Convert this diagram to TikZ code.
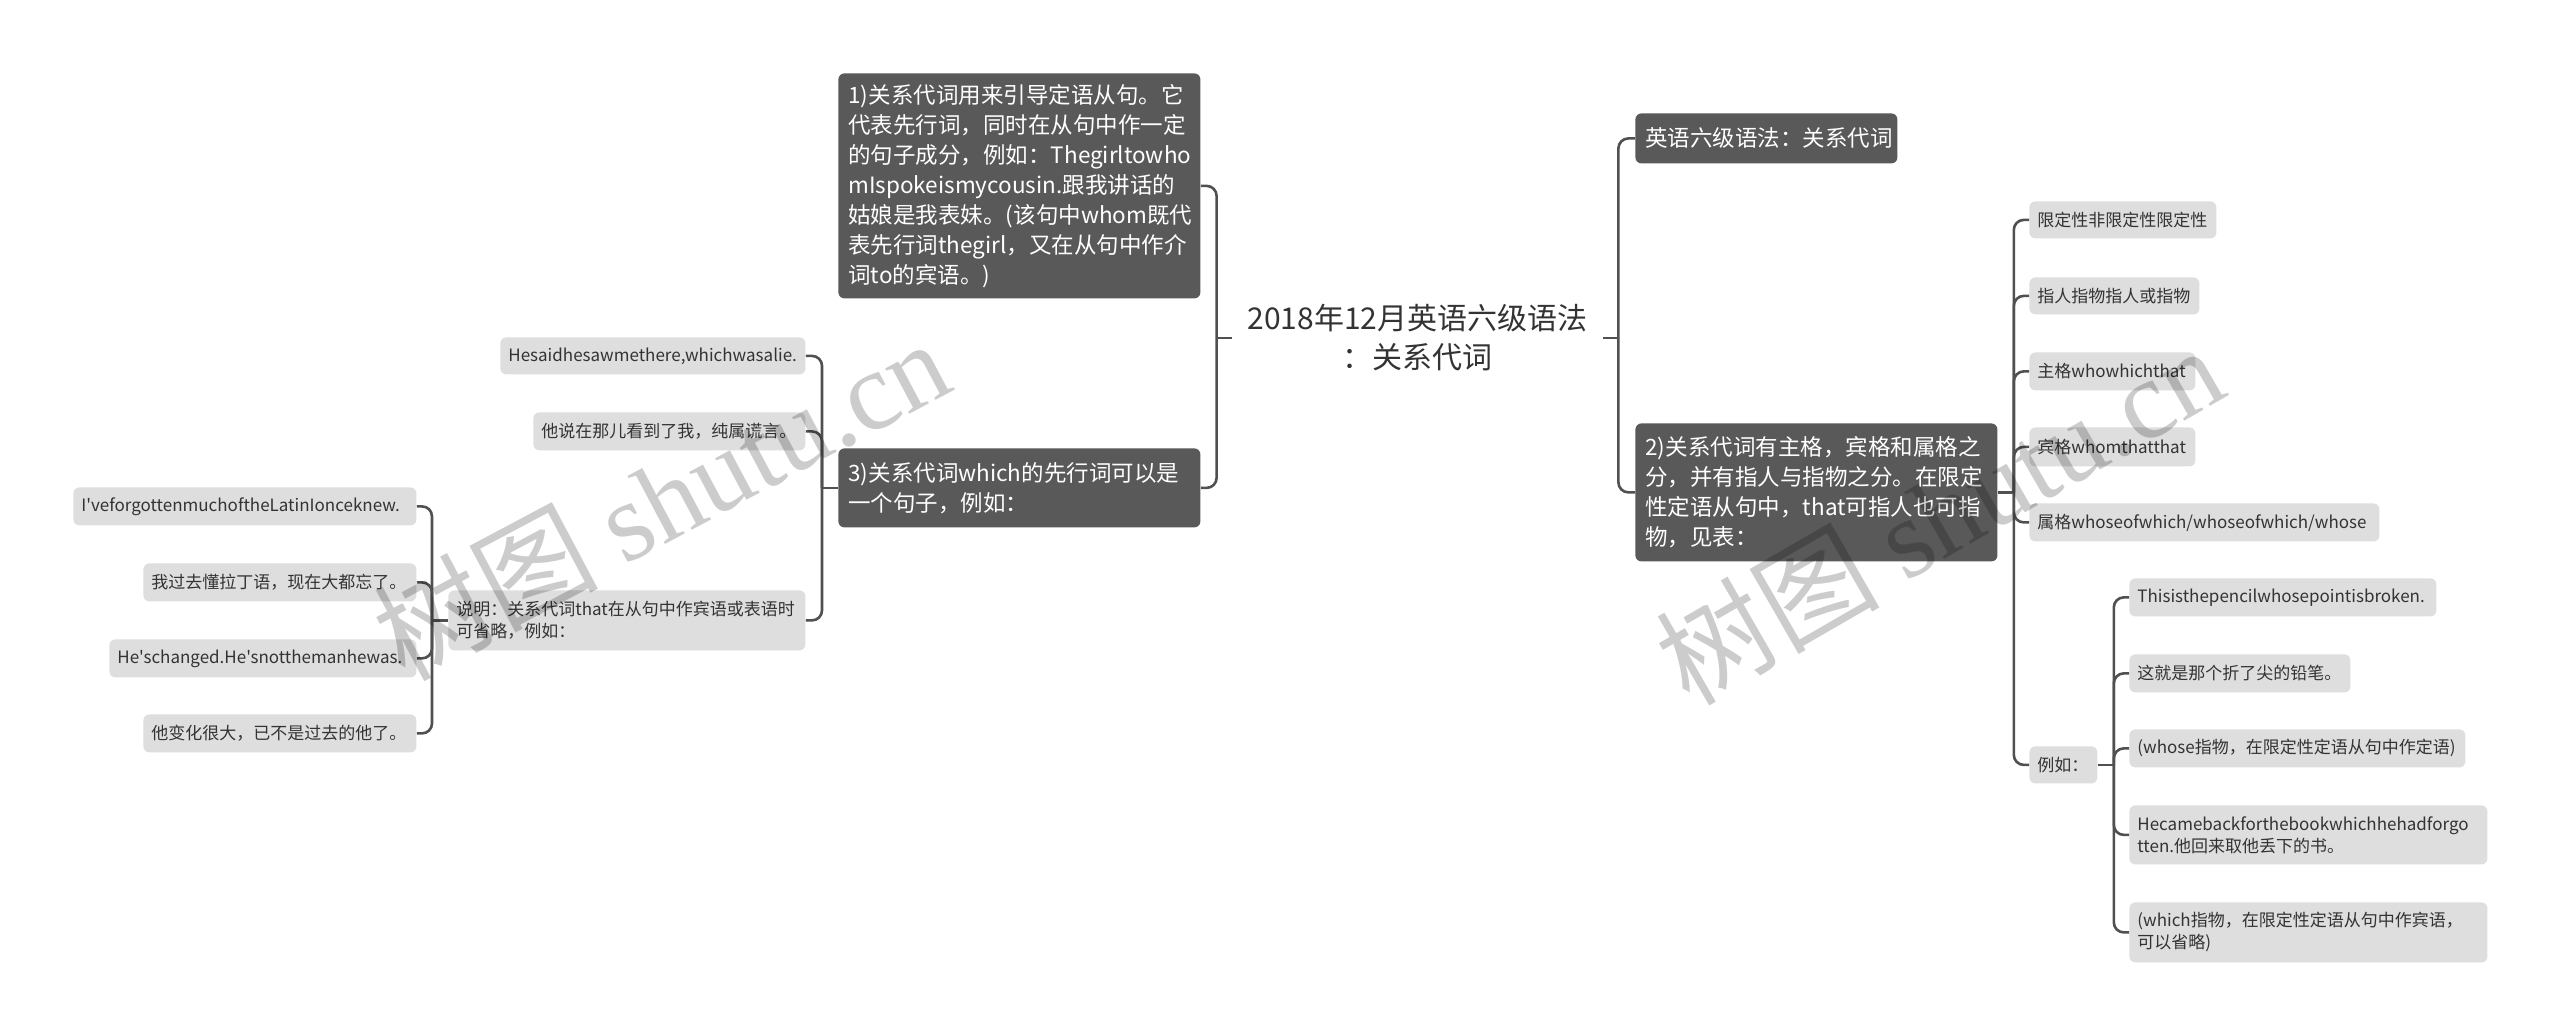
\documentclass[tikz,border=0pt]{standalone}
\usepackage{fontspec}
\setmainfont{Noto Sans CJK SC}[Ligatures=TeXOff]
\newfontfamily\wmfont{Liberation Serif}
\newfontfamily\wmcjk{Noto Sans CJK SC}
\definecolor{darkbox}{HTML}{595959}
\definecolor{lightbox}{HTML}{DEDEDE}
\definecolor{linec}{HTML}{505050}
\definecolor{textc}{HTML}{333333}
\tikzset{
  darkstyle/.style={fill=darkbox, text=white, rounded corners=3pt, inner xsep=5pt, inner ysep=0pt, align=left,
    font=\fontsize{11.25pt}{15pt}\selectfont},
  lightstyle/.style={fill=lightbox, text=textc, rounded corners=3pt, inner xsep=4pt, inner ysep=0pt, align=left,
    font=\fontsize{8.5pt}{11pt}\selectfont},
  conn/.style={draw=linec, line width=1.3pt},
  rconn/.style={conn, rounded corners=5pt},
  wm/.style={text=black, text opacity=0.2, font=\fontsize{56pt}{60pt}\selectfont}
}
% name, style, left, top, right, bottom, xsep, text   (coordinates in px)
\newcommand\mmnode[8]{%
  \pgfmathsetmacro\mmw{(#5-#3)*0.5}%
  \pgfmathsetmacro\mmh{(#6-#4)*0.5}%
  \pgfmathsetmacro\mmtw{(#5-#3)*0.5-2*#7}%
  \node[#2, anchor=north west, inner xsep=#7pt, minimum width=\mmw pt, minimum height=\mmh pt, text width=\mmtw pt] (#1) at (#3,#4) {#8};%
}
\begin{document}
\begin{tikzpicture}[x=0.5pt, y=-0.5pt]
\useasboundingbox (0,0) rectangle (2560,1036);
\fill[white] (0,0) rectangle (2560,1036);

% root
\node[text=textc, align=center, inner sep=0pt, minimum width=185.5pt, font=\fontsize{15pt}{19.5pt}\selectfont]
  (root) at (1417.5,338) {2018年12月英语六级语法\\：关系代词};

% dark nodes
\mmnode{n1}{darkstyle}{838}{73}{1200}{298}{5}{1)关系代词用来引导定语从句。它\\代表先行词，同时在从句中作一定\\的句子成分，例如：Thegirltowho\\mIspokeismycousin.跟我讲话的\\姑娘是我表妹。(该句中whom既代\\表先行词thegirl，又在从句中作介\\词to的宾语。)}
\mmnode{n3}{darkstyle}{838}{448}{1200}{527}{5}{3)关系代词which的先行词可以是\\一个句子，例如：}
\mmnode{n4}{darkstyle}{1635}{113}{1897}{163}{5}{英语六级语法：关系代词}
\mmnode{n2}{darkstyle}{1635}{423}{1997}{561}{5}{2)关系代词有主格，宾格和属格之\\分，并有指人与指物之分。在限定\\性定语从句中，that可指人也可指\\物，见表：}

% right light nodes
\mmnode{r1}{lightstyle}{2029}{201}{2216}{238}{4}{限定性非限定性限定性}
\mmnode{r2}{lightstyle}{2029}{277}{2199}{314}{4}{指人指物指人或指物}
\mmnode{r3}{lightstyle}{2029}{352}{2195}{390}{4}{主格whowhichthat}
\mmnode{r4}{lightstyle}{2029}{427}{2195}{466}{4}{宾格whomthatthat}
\mmnode{r5}{lightstyle}{2029}{503}{2379}{541}{4}{属格whoseofwhich/whoseofwhich/whose}
\mmnode{r6}{lightstyle}{2029}{746}{2097}{783}{4}{例如：}
\mmnode{e1}{lightstyle}{2129}{578}{2436}{616}{4}{Thisisthepencilwhosepointisbroken.}
\mmnode{e2}{lightstyle}{2129}{654}{2350}{692}{4}{这就是那个折了尖的铅笔。}
\mmnode{e3}{lightstyle}{2129}{729}{2465}{767}{4}{(whose指物，在限定性定语从句中作定语)}
\mmnode{e4}{lightstyle}{2129}{805}{2487}{864}{4}{Hecamebackforthebookwhichhehadforgo\\tten.他回来取他丢下的书。}
\mmnode{e5}{lightstyle}{2129}{902}{2487}{962}{4}{(which指物，在限定性定语从句中作宾语，\\可以省略)}

% left light nodes
\mmnode{l1}{lightstyle}{500}{337}{805}{374}{4}{Hesaidhesawmethere,whichwasalie.}
\mmnode{l2}{lightstyle}{533}{412}{805}{450}{4}{他说在那儿看到了我，纯属谎言。}
\mmnode{l3}{lightstyle}{448}{590}{805}{650}{4}{说明：关系代词that在从句中作宾语或表语时\\可省略，例如：}
\mmnode{s1}{lightstyle}{73}{487}{416}{525}{4}{I've{}forgottenmuchoftheLatinIonceknew.}
\mmnode{s2}{lightstyle}{143}{563}{416}{601}{4}{我过去懂拉丁语，现在大都忘了。}
\mmnode{s3}{lightstyle}{109}{639}{416}{677}{4}{He'schanged.He'snotthemanhewas.}
\mmnode{s4}{lightstyle}{143}{714}{416}{752}{4}{他变化很大，已不是过去的他了。}

% junction coordinates
\coordinate (jL) at ([xshift=-7.5pt]root.west);
\coordinate (jR) at ([xshift=7.5pt]root.east);
\coordinate (j3) at ([xshift=-8pt]n3.west);
\coordinate (jS) at ([xshift=-8pt]l3.west);
\coordinate (j2) at ([xshift=8pt]n2.east);
\coordinate (jE) at ([xshift=8pt]r6.east);

% connectors
\draw[conn] (root.west) -- (jL);
\draw[rconn] (jL) |- (n1.east);
\draw[rconn] (jL) |- (n3.east);
\draw[conn] (root.east) -- (jR);
\draw[rconn] (jR) |- (n4.west);
\draw[rconn] (jR) |- (n2.west);

\draw[conn] (n3.west) -- (j3);
\draw[rconn] (j3) |- (l1.east);
\draw[rconn] (j3) |- (l2.east);
\draw[rconn] (j3) |- (l3.east);

\draw[conn] (l3.west) -- (jS);
\draw[rconn] (jS) |- (s1.east);
\draw[rconn] (jS) |- (s2.east);
\draw[rconn] (jS) |- (s3.east);
\draw[rconn] (jS) |- (s4.east);

\draw[conn] (n2.east) -- (j2);
\draw[rconn] (j2) |- (r1.west);
\draw[rconn] (j2) |- (r2.west);
\draw[rconn] (j2) |- (r3.west);
\draw[rconn] (j2) |- (r4.west);
\draw[rconn] (j2) |- (r5.west);
\draw[rconn] (j2) |- (r6.west);

\draw[conn] (r6.east) -- (jE);
\draw[rconn] (jE) |- (e1.west);
\draw[rconn] (jE) |- (e2.west);
\draw[rconn] (jE) |- (e3.west);
\draw[rconn] (jE) |- (e4.west);
\draw[rconn] (jE) |- (e5.west);

% watermarks
\node[wm, rotate=28] (wm1) at (661,498) {{\wmcjk 树图} {\wmfont shutu.cn}};
\node[wm, rotate=30] (wm2) at (1939,514) {{\wmcjk 树图} {\wmfont shutu.cn}};
\end{tikzpicture}
\end{document}
